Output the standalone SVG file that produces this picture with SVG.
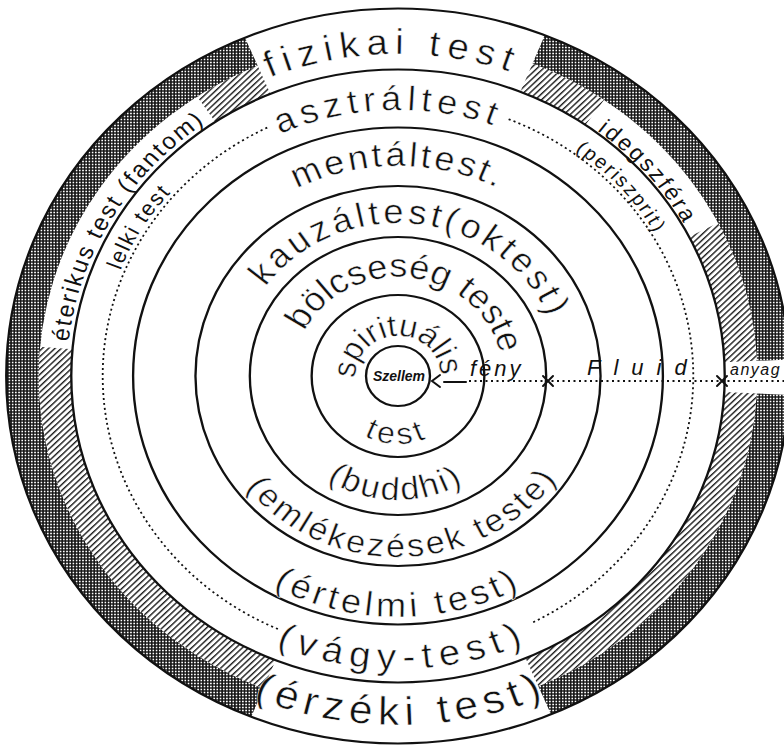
<svg xmlns="http://www.w3.org/2000/svg" width="784" height="747" viewBox="0 0 784 747">
<defs>
<style>
.lbl{font-family:"Liberation Sans",Arial,sans-serif;fill:#111;stroke:#fff;stroke-width:0.5}
.sm{stroke:none}
.it{font-family:"Liberation Sans",Arial,sans-serif;font-style:italic;fill:#111}
.ring{fill:none;stroke:#111;stroke-width:2.2}
.dot{fill:none;stroke:#111;stroke-width:1.7;stroke-dasharray:2 3}
.mark{fill:none;stroke:#111;stroke-width:2;stroke-linecap:round}
</style>
<pattern id="dark" width="3" height="3" patternUnits="userSpaceOnUse"><rect width="3" height="3" fill="#111"/><rect x="0.7" y="0.7" width="1.6" height="1.6" fill="#fff"/></pattern>
<pattern id="hatch" width="4.2" height="4.2" patternUnits="userSpaceOnUse" patternTransform="rotate(45)"><rect width="4.2" height="4.2" fill="#fff"/><line x1="0.7" y1="0" x2="0.7" y2="4.2" stroke="#111" stroke-width="1.3"/></pattern>
<path id="p-fiz" d="M 5.62 321.95 A 322 322 0 0 1 -5.62 -321.95 A 322 322 0 0 1 5.62 321.95"/>
<path id="p-asz" d="M 9.28 265.84 A 266 266 0 0 1 -9.28 -265.84 A 266 266 0 0 1 9.28 265.84"/>
<path id="p-men" d="M 0 210 A 210 210 0 0 1 0 -210 A 210 210 0 0 1 0 210"/>
<path id="p-kau" d="M -18.65 151.86 A 153 153 0 0 1 18.65 -151.86 A 153 153 0 0 1 -18.65 151.86"/>
<path id="p-bol" d="M -12.07 98.26 A 99 99 0 0 1 12.07 -98.26 A 99 99 0 0 1 -12.07 98.26"/>
<path id="p-spi" d="M 1.40 39.98 A 40 40 0 0 1 -1.40 -39.98 A 40 40 0 0 1 1.40 39.98"/>
<path id="p-ide" d="M -233.2 202.7 A 309 309 0 0 1 233.2 -202.7 A 309 309 0 0 1 -233.2 202.7"/>
<path id="p-per" d="M -208.8 188.0 A 281 281 0 0 1 208.8 -188.0 A 281 281 0 0 1 -208.8 188.0"/>
<path id="p-ete" d="M 267.97 157.85 A 311 311 0 0 1 -267.97 -157.85 A 311 311 0 0 1 267.97 157.85"/>
<path id="p-lel" d="M 240.4 147.3 A 282 282 0 0 1 -240.4 -147.3 A 282 282 0 0 1 240.4 147.3"/>
<path id="p-tes" d="M 1.19 -67.99 A 68 68 0 0 0 -1.19 67.99 A 68 68 0 0 0 1.19 -67.99"/>
<path id="p-bud" d="M 2.16 -123.98 A 124 124 0 0 0 -2.16 123.98 A 124 124 0 0 0 2.16 -123.98"/>
<path id="p-eml" d="M -6.32 -180.89 A 181 181 0 0 0 6.32 180.89 A 181 181 0 0 0 -6.32 -180.89"/>
<path id="p-ert" d="M 0 -241 A 241 241 0 0 0 0 241 A 241 241 0 0 0 0 -241"/>
<path id="p-vag" d="M -5.11 -292.96 A 293 293 0 0 0 5.11 292.96 A 293 293 0 0 0 -5.11 -292.96"/>
<path id="p-erz" d="M -3.05 -348.99 A 349 349 0 0 0 3.05 348.99 A 349 349 0 0 0 -3.05 -348.99"/>
</defs>
<rect width="784" height="747" fill="#fff"/>
<g transform="translate(398,376) scale(1.066,1)">
  <g id="outer-band-patterns">
    <circle r="352.25" fill="none" stroke="url(#dark)" stroke-width="30.5" pathLength="360" stroke-dasharray="0 3 64 45 135 45 65.4 2.6"/>
    <circle r="321.75" fill="none" stroke="url(#hatch)" stroke-width="30.5" pathLength="360" stroke-dasharray="0 3 64 45 73 51 11 45 13 28 24.4 2.6"/>
  </g>
  <g id="rings">
    <circle class="ring" r="367.5" stroke-width="2.6"/>
    <circle class="ring" r="306.5"/>
    <circle class="ring" r="248.5"/>
    <circle class="ring" r="190"/>
    <circle class="ring" r="139"/>
    <circle class="ring" r="81"/>
    <circle class="ring" r="30"/>
  </g>
  <g id="connectors-dotted">
    <path class="dot" d="M -112.67 253.05 A 277 277 0 0 1 -121.4 -249.0"/>
    <path class="dot" d="M 103.77 -256.83 A 277 277 0 0 1 125.75 246.81"/>
  </g>
  <g id="node-fizikai"><text class="lbl" font-size="36" letter-spacing="6.5"><textPath href="#p-fiz" startOffset="50%" text-anchor="middle">fizikai test</textPath></text></g>
  <g id="node-asztral"><text class="lbl" font-size="34" letter-spacing="5"><textPath href="#p-asz" startOffset="50%" text-anchor="middle">asztráltest</textPath></text></g>
  <g id="node-mental"><text class="lbl" font-size="34" letter-spacing="2.8"><textPath href="#p-men" startOffset="50%" text-anchor="middle">mentáltest.</textPath></text></g>
  <g id="node-kauzal"><text class="lbl" font-size="34" letter-spacing="3.4"><textPath href="#p-kau" startOffset="50%" text-anchor="middle">kauzáltest(oktest)</textPath></text></g>
  <g id="node-bolcseseg"><text class="lbl" font-size="34" letter-spacing="0.3"><textPath href="#p-bol" startOffset="50%" text-anchor="middle">bölcseség teste</textPath></text></g>
  <g id="node-spiritualis"><text class="lbl" font-size="31" letter-spacing="-0.2"><textPath href="#p-spi" startOffset="50%" text-anchor="middle">spirituális</textPath></text></g>
  <g id="node-idegszfera"><text class="lbl sm" font-size="22" letter-spacing="2.5"><textPath href="#p-ide" startOffset="50%" text-anchor="middle">idegszféra</textPath></text></g>
  <g id="node-periszprit"><text class="lbl sm" font-size="19" letter-spacing="2"><textPath href="#p-per" startOffset="50%" text-anchor="middle">(periszprit)</textPath></text></g>
  <g id="node-eterikus"><text class="lbl sm" font-size="23" letter-spacing="2.1"><textPath href="#p-ete" startOffset="50%" text-anchor="middle">éterikus test (fantom)</textPath></text></g>
  <g id="node-lelki"><text class="lbl sm" font-size="21" letter-spacing="1.7"><textPath href="#p-lel" startOffset="50%" text-anchor="middle">lelki test</textPath></text></g>
  <g id="node-test"><text class="lbl" font-size="30" letter-spacing="4"><textPath href="#p-tes" startOffset="50%" text-anchor="middle">test</textPath></text></g>
  <g id="node-buddhi"><text class="lbl" font-size="32" letter-spacing="2.4"><textPath href="#p-bud" startOffset="50%" text-anchor="middle">(buddhi)</textPath></text></g>
  <g id="node-emlekezesek"><text class="lbl" font-size="32" letter-spacing="2.9"><textPath href="#p-eml" startOffset="50%" text-anchor="middle">(emlékezések teste)</textPath></text></g>
  <g id="node-ertelmi"><text class="lbl" font-size="34" letter-spacing="4"><textPath href="#p-ert" startOffset="50%" text-anchor="middle">(értelmi test)</textPath></text></g>
  <g id="node-vagy"><text class="lbl" font-size="36" letter-spacing="6.9"><textPath href="#p-vag" startOffset="50%" text-anchor="middle">(vágy-test)</textPath></text></g>
  <g id="node-erzeki"><text class="lbl" font-size="40" letter-spacing="5.9"><textPath href="#p-erz" startOffset="50%" text-anchor="middle">(érzéki test)</textPath></text></g>
</g>
<g id="connectors">
  <polyline class="mark" points="440,375 432,381 440,387"/>
  <line class="mark" x1="444" y1="382" x2="466" y2="382"/>
  <line x1="469" y1="381" x2="784" y2="381" stroke="#111" stroke-width="1.8" stroke-dasharray="2 3.5"/>
  <path class="mark" d="M543 376 L553 386 M543 386 L553 376"/>
  <path class="mark" d="M717 376 L727 386 M717 386 L727 376"/>
</g>
<g id="node-szellem"><text class="it" font-weight="bold" font-size="14" x="399" y="381" text-anchor="middle">Szellem</text></g>
<g id="node-feny"><text class="it" font-size="22" letter-spacing="3" x="470" y="376">fény</text></g>
<g id="node-fluid"><text class="it" font-size="22" letter-spacing="13" x="587" y="375">Fluid</text></g>
<g id="node-anyag"><text class="it" font-size="16" letter-spacing="1.5" x="730" y="375">anyag</text></g>
</svg>
